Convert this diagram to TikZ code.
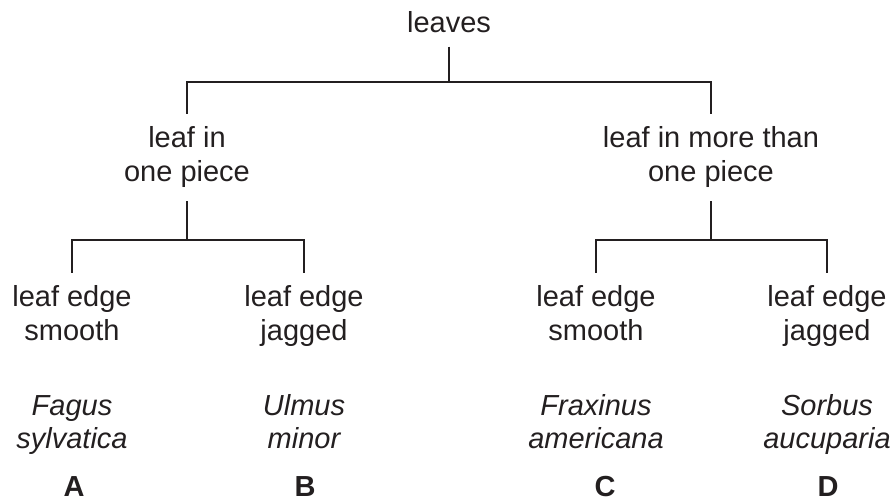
\documentclass[tikz,border=0pt]{standalone}
\usepackage{fontspec}
\setmainfont{Liberation Sans}
\usetikzlibrary{positioning}
\definecolor{ink}{RGB}{35,31,32}

\begin{document}
\begin{tikzpicture}[x=0.5pt,y=-0.5pt,
	key/.style={align=center, inner xsep=0pt, inner ysep=6.5pt, anchor=base, text=ink, font=\fontsize{14.5}{17}\selectfont},
	species/.style={key, font=\fontsize{14.5}{17}\selectfont\itshape},
	letter/.style={key, font=\fontsize{14.5}{17}\selectfont\bfseries},
	branch/.style={draw=ink, line width=1.3pt}]
	\useasboundingbox (0,0) rectangle (895,502);

	% top of the key
	\node [key] (leaves) at (449,33) {leaves};
	\node [key] (piece1) at (187,182) {leaf in\\one piece};
	\node [key] (piece2) at (711,182) {leaf in more than\\one piece};

	% leaf edges
	\node [key] (smooth1) at (72,341) {leaf edge\\smooth};
	\node [key] (jagged1) at (304,341) {leaf edge\\jagged};
	\node [key] (smooth2) at (596,341) {leaf edge\\smooth};
	\node [key] (jagged2) at (827,341) {leaf edge\\jagged};

	% names
	\node [species] (fagus) at (72,449) {Fagus\\sylvatica};
	\node [species] (ulmus) at (304,449) {Ulmus\\minor};
	\node [species] (fraxinus) at (596,449) {Fraxinus\\americana};
	\node [species] (sorbus) at (827,449) {Sorbus\\aucuparia};
	\node [letter] (A) at (74,496) {A};
	\node [letter] (B) at (305,496) {B};
	\node [letter] (C) at (605,496) {C};
	\node [letter] (D) at (828,496) {D};

	\coordinate (j0) at (449,82);
	\coordinate (j1) at (187,240);
	\coordinate (j2) at (711,240);
	\draw [branch] (leaves) -- (j0);
	\draw [branch] (piece1.north) |- (j0) -| (piece2.north);
	\draw [branch] (piece1) -- (j1);
	\draw [branch] (piece2) -- (j2);
	\draw [branch] (smooth1.north) |- (j1) -| (jagged1.north);
	\draw [branch] (smooth2.north) |- (j2) -| (jagged2.north);
\end{tikzpicture}
\end{document}
